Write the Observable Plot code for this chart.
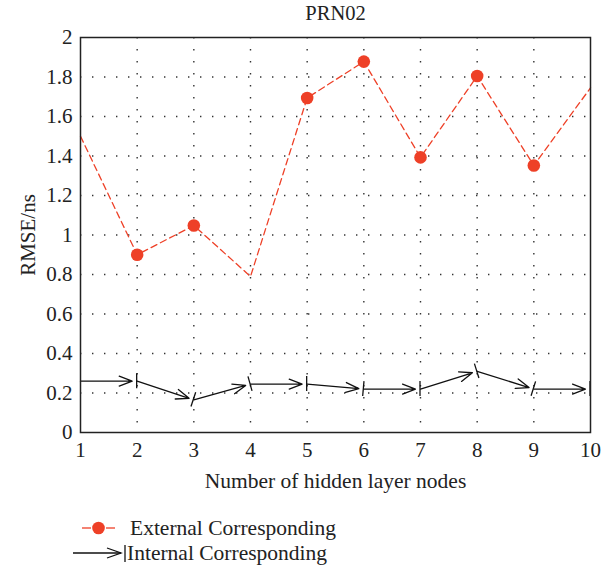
<!DOCTYPE html>
<html>
<head>
<meta charset="utf-8">
<script src="https://cdn.jsdelivr.net/npm/d3@7"></script>
<script src="https://cdn.jsdelivr.net/npm/@observablehq/plot@0.6"></script>
<style>
  body { margin: 0; background: #fff; font-family: "Liberation Serif", serif; }
  #wrap { position: relative; width: 614px; height: 571px; overflow: hidden; }
  .leg { position: absolute; font-size: 21.5px; color: #222; line-height: 24px; white-space: nowrap; }
  .legsym { position: absolute; }
</style>
</head>
<body>
<div id="wrap">
  <div id="chart"></div>
  <svg class="legsym" style="left:0;top:516px" width="130" height="50">
    <line x1="82" x2="91" y1="12" y2="12" stroke="#EE4027" stroke-width="1.3"/>
    <line x1="106" x2="115" y1="12" y2="12" stroke="#EE4027" stroke-width="1.3"/>
    <circle cx="98.5" cy="12" r="6.3" fill="#EE4027"/>
    <line x1="73" x2="121" y1="37" y2="37" stroke="#111" stroke-width="1.3"/>
    <polyline points="107,32 121,37 107,42" fill="none" stroke="#111" stroke-width="1.3"/>
    <line x1="125" x2="125" y1="29" y2="46" stroke="#111" stroke-width="1.3"/>
  </svg>
  <div class="leg" id="leg1" style="left:130px;top:516px"></div>
  <div class="leg" id="leg2" style="left:127px;top:541px"></div>
</div>
<script>
// ---- data ----
const title = "PRN02";
const xLabel = "Number of hidden layer nodes";
const yLabel = "RMSE/ns";
const legendLabels = ["External Corresponding", "Internal Corresponding"];
const nodes = [1, 2, 3, 4, 5, 6, 7, 8, 9, 10];
const external = [1.50, 0.90, 1.048, 0.79, 1.694, 1.878, 1.393, 1.805, 1.352, 1.745];
const internal = [0.26, 0.26, 0.165, 0.245, 0.245, 0.22, 0.22, 0.31, 0.22, 0.22];
const markedNodes = [2, 3, 5, 6, 7, 8, 9];
const yTicks = [0, 0.2, 0.4, 0.6, 0.8, 1, 1.2, 1.4, 1.6, 1.8, 2];
const yTickLabels = ["0", "0.2", "0.4", "0.6", "0.8", "1", "1.2", "1.4", "1.6", "1.8", "2"];
const xGrid = [2, 3, 4, 5, 6, 7, 8, 9];
const yGrid = [0.2, 0.4, 0.6, 0.8, 1, 1.2, 1.4, 1.6, 1.8];

// ---- tables ----
const extData = nodes.map((n, i) => ({node: n, value: external[i]}));
const extMarked = extData.filter(d => markedNodes.includes(d.node));
const segments = nodes.slice(0, -1).map((n, i) => ({
  x1: n, y1: internal[i], x2: nodes[i + 1], y2: internal[i + 1]
}));

const red = "#EE4027";
const ink = "#222";

document.getElementById("leg1").textContent = legendLabels[0];
document.getElementById("leg2").textContent = legendLabels[1];

// perpendicular end bars drawn through the plot's scales
function endBars(index, scales) {
  const g = d3.create("svg:g").attr("stroke", "#111").attr("stroke-width", 1.3);
  for (const s of segments) {
    const ax = scales.x(s.x1), ay = scales.y(s.y1);
    const bx = scales.x(s.x2), by = scales.y(s.y2);
    const a = Math.atan2(by - ay, bx - ax);
    const L = 7.5;
    const px = -Math.sin(a) * L, py = Math.cos(a) * L;
    g.append("line")
      .attr("x1", bx + px).attr("y1", by + py)
      .attr("x2", bx - px).attr("y2", by - py);
  }
  return g.node();
}

const chart = Plot.plot({
  width: 614,
  height: 500,
  marginTop: 37,
  marginLeft: 80,
  marginRight: 24,
  marginBottom: 68,
  style: {fontFamily: "Liberation Serif, serif", color: ink, background: "#fff"},
  x: {domain: [1, 10]},
  y: {domain: [0, 2]},
  marks: [
    Plot.gridX(xGrid, {stroke: "#333", strokeOpacity: 1, strokeWidth: 1.4, strokeDasharray: "1.4,10.6"}),
    Plot.gridY(yGrid, {stroke: "#333", strokeOpacity: 1, strokeWidth: 1.4, strokeDasharray: "1.4,10.6"}),
    Plot.axisX({ticks: nodes, tickSize: 0, tickPadding: 10, fontSize: 21, tickFormat: d => String(d), label: null}),
    Plot.axisY({ticks: yTicks, tickSize: 0, tickPadding: 8, fontSize: 21,
      tickFormat: d => yTickLabels[yTicks.indexOf(d)], label: null}),
    Plot.text([xLabel], {frameAnchor: "bottom", lineAnchor: "middle", dy: 49, fontSize: 21.5, fill: ink}),
    Plot.text([yLabel], {frameAnchor: "left", textAnchor: "middle", lineAnchor: "middle", dx: -52, rotate: -90, fontSize: 21, fill: ink}),
    Plot.lineY(extData, {x: "node", y: "value", stroke: red, strokeWidth: 1.3, strokeDasharray: "6.5,4"}),
    Plot.dot(extMarked, {x: "node", y: "value", r: 6.3, fill: red, stroke: "none"}),
    Plot.arrow(segments, {x1: "x1", y1: "y1", x2: "x2", y2: "y2", stroke: "#111", strokeWidth: 1.3,
      headLength: 16, headAngle: 42, insetEnd: 5}),
    endBars,
    Plot.frame({stroke: "#222", strokeWidth: 1.5}),
    Plot.text([title], {frameAnchor: "top", lineAnchor: "middle", dy: -24, fontSize: 20.5, fill: ink})
  ]
});
document.getElementById("chart").appendChild(chart);
</script>
</body>
</html>
